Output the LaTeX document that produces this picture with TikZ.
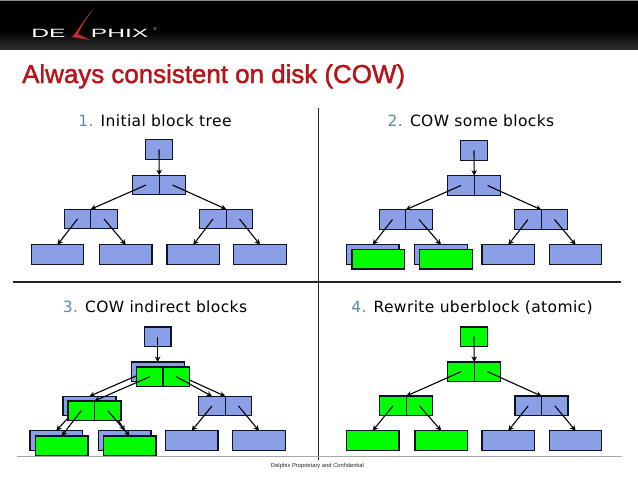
\documentclass[tikz,border=0pt]{standalone}
\usepackage{fontspec}
\setmainfont{DejaVu Sans}
\newfontfamily\titlefont{Liberation Sans}
\newfontfamily\ttlfont[FakeBold=1.6]{Liberation Sans}
\usetikzlibrary{arrows.meta}
\definecolor{blk}{HTML}{8A9FE6}
\definecolor{grn}{HTML}{00FF00}
\definecolor{edgec}{HTML}{0E1426}
\definecolor{ttl}{HTML}{B81318}
\definecolor{num}{HTML}{5C8BAA}
\tikzset{
  x=1pt,y=-1pt,
  cellbox/.style={draw=edgec,line width=1.2pt,inner sep=0pt,outer sep=0pt,minimum height=19.5pt,minimum width=26.5pt},
  bluebox/.style={cellbox,fill=blk},
  greenbox/.style={cellbox,fill=grn},
  leafwide/.style={minimum width=52.5pt},
  link/.style={draw=black,line width=1.1pt,-{Stealth[length=5.5pt,width=5.5pt]}},
  head/.style={font=\fontsize{15.5}{18}\selectfont\addfontfeatures{LetterSpace=2.5},anchor=base},
  rule/.style={draw=black!85,line width=1.2pt},
  logotext/.style={text=white,font=\titlefont\fontsize{12}{12}\selectfont,inner sep=0pt,anchor=base west,xscale=2.05,transform shape}
}
\begin{document}
\begin{tikzpicture}
\useasboundingbox (0,0) rectangle (638,479);
\fill[white] (0,0) rectangle (638,479);
% header
\fill[black] (0,0) rectangle (638,30);
\shade[top color=black,bottom color=black!82] (0,30) rectangle (638,49);
\draw[black!45,line width=.6pt] (0,.3) -- (638,.3);
% logo
\node[logotext] (logoa) at (31,37) {DE};
\node[logotext] (logob) at (90.5,37) {PHIX};
\node[text=white,font=\titlefont\fontsize{4}{4}\selectfont,inner sep=0pt] (logor) at (155,29.5) {®};
\fill[ttl!90!white] (93,9) .. controls (84,20) and (78,30) .. (72,37) -- (90,40) -- (78,34) .. controls (82,25) and (88,17) .. (93,9) -- cycle;
% title
\node[text=ttl,font=\ttlfont\fontsize{25.9}{28}\selectfont,anchor=base west,inner sep=0pt] (title) at (22,83) {Always consistent on disk (COW)};
% dividers
\draw[rule] (318.5,108) coordinate (va) -- (318.5,460) coordinate (vb);
\draw[rule] (13,282) coordinate (ha) -- (621,282) coordinate (hb);
\draw[black!35,line width=.6pt] (17,456.5) coordinate (fa) -- (622,456.5) coordinate (fb);
\node[font=\titlefont\fontsize{5.8}{7}\selectfont,text=black!85] (foot) at (317.5,465.5) {Delphix Proprietary and Confidential};
% headings
\node[head] (h1) at (155,126) {\textcolor{num}{1.} Initial block tree};
\node[head] (h2) at (471,126) {\textcolor{num}{2.} COW some blocks};
\node[head] (h3) at (155,312) {\textcolor{num}{3.} COW indirect blocks};
\node[head] (h4) at (472,312) {\textcolor{num}{4.} Rewrite uberblock (atomic)};

% Panel 1
\node[bluebox] (ar) at (159,149.5) {};
\node[bluebox] (al) at (146,185) {};
\node[bluebox] (am) at (172.5,185) {};
\node[bluebox] (bl) at (77.5,219) {};
\node[bluebox] (bm) at (104,219) {};
\node[bluebox] (cl) at (213,219) {};
\node[bluebox] (cm) at (239.5,219) {};
\node[bluebox,leafwide] (l1) at (57.5,254.5) {};
\node[bluebox,leafwide] (l2) at (125.75,254.5) {};
\node[bluebox,leafwide] (l3) at (193.25,254.5) {};
\node[bluebox,leafwide] (l4) at (260,254.5) {};
\draw[link] (ar.center) -- (al.north east);
\draw[link] (al.center) -- (bl.north east);
\draw[link] (am.center) -- (cl.north east);
\draw[link] (bl.center) -- (l1.north);
\draw[link] (bm.center) -- (l2.north);
\draw[link] (cl.center) -- (l3.north);
\draw[link] (cm.center) -- (l4.north);

% Panel 2
\node[bluebox] (dr) at (474,150.5) {};
\node[bluebox] (dl) at (461,185.5) {};
\node[bluebox] (dm) at (487.5,185.5) {};
\node[bluebox] (el) at (392.5,219.5) {};
\node[bluebox] (em) at (419,219.5) {};
\node[bluebox] (fl) at (528,219.5) {};
\node[bluebox] (fm) at (554.5,219.5) {};
\node[bluebox,leafwide] (m1) at (372.7,254.5) {};
\node[bluebox,leafwide] (m2) at (441,254.5) {};
\node[bluebox,leafwide] (m3) at (508.3,254.5) {};
\node[bluebox,leafwide] (m4) at (575.6,254.5) {};
\node[greenbox,leafwide] (n1) at (378.2,259.2) {};
\node[greenbox,leafwide] (n2) at (446,259.2) {};
\draw[link] (dr.center) -- (dl.north east);
\draw[link] (dl.center) -- (el.north east);
\draw[link] (dm.center) -- (fl.north east);
\draw[link] (el.center) -- (m1.north);
\draw[link] (em.center) -- (m2.north);
\draw[link] (fl.center) -- (m3.north);
\draw[link] (fm.center) -- (m4.north);

% Panel 3
\node[bluebox] (gr) at (157.7,336.7) {};
\node[bluebox,minimum width=53pt] (gb) at (157.7,371.7) {};
\node[bluebox,minimum width=53pt] (hb1) at (89.5,406) {};
\node[bluebox] (il) at (212,406) {};
\node[bluebox] (im) at (238.5,406) {};
\node[bluebox,leafwide] (o1) at (56.2,440.5) {};
\node[bluebox,leafwide] (o2) at (124.7,440.5) {};
\node[bluebox,leafwide] (o3) at (191.7,440.5) {};
\node[bluebox,leafwide] (o4) at (259,440.5) {};
\coordinate (gbl) at (136,376);
\coordinate (gbr) at (189.5,380);
\coordinate (hbl) at (68,418);
\coordinate (hbr) at (117,418);
\draw[link] (gr.center) -- (gb.north);
\draw[link] (gbl) -- (hb1.north);
\draw[link] (gbr) -- (il.north east);
\draw[link] (hbl) -- (o1.north);
\draw[link] (hbr) -- (o2.north);
\draw[link] (il.center) -- (o3.north);
\draw[link] (im.center) -- (o4.north);
\node[greenbox] (jl) at (149.8,376.7) {};
\node[greenbox] (jm) at (176.3,376.7) {};
\node[greenbox] (kl) at (81.2,410.7) {};
\node[greenbox] (km) at (107.7,410.7) {};
\node[greenbox,leafwide] (q1) at (61.7,445.7) {};
\node[greenbox,leafwide] (q2) at (129.7,445.7) {};
\draw[link] (jl.center) -- (kl.north east);
\draw[link] (jm.center) -- (il.north);
\draw[link] (kl.center) -- (q1.north);
\draw[link] (km.center) -- (q2.north);

% Panel 4
\node[greenbox] (rr) at (474,336.7) {};
\node[greenbox] (rl) at (461,371.7) {};
\node[greenbox] (rm) at (487.5,371.7) {};
\node[greenbox] (sl) at (393,405.8) {};
\node[greenbox] (sm) at (419.5,405.8) {};
\node[bluebox] (tl) at (528.3,405.8) {};
\node[bluebox] (tm) at (554.8,405.8) {};
\node[greenbox,leafwide] (u1) at (372.7,440.5) {};
\node[greenbox,leafwide] (u2) at (441.2,440.5) {};
\node[bluebox,leafwide] (u3) at (508.3,440.5) {};
\node[bluebox,leafwide] (u4) at (575.6,440.5) {};
\draw[link] (rr.center) -- (rl.north east);
\draw[link] (rl.center) -- (sl.north east);
\draw[link] (rm.center) -- (tl.north east);
\draw[link] (sl.center) -- (u1.north);
\draw[link] (sm.center) -- (u2.north);
\draw[link] (tl.center) -- (u3.north);
\draw[link] (tm.center) -- (u4.north);
\end{tikzpicture}
\end{document}
